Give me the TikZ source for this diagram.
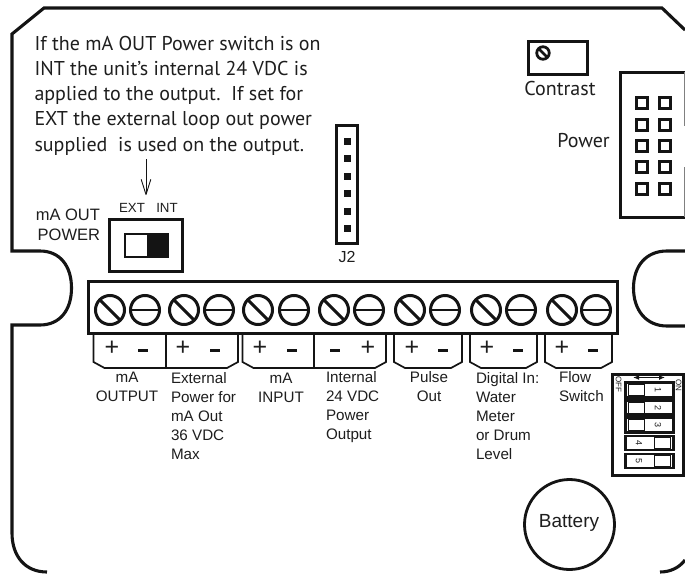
\documentclass[tikz,border=0pt]{standalone}
\usepackage{fontspec}
\setmainfont{Liberation Sans}
\newfontfamily\myr{PT Sans}
\usetikzlibrary{arrows.meta}
\definecolor{ink}{HTML}{141414}
\definecolor{txt}{HTML}{1E1E1E}
\tikzset{
  x=1pt,y=-1pt,
  every node/.style={inner sep=0pt,outer sep=0pt,text=txt},
  heavy/.style={draw=ink,line width=3.1pt},
  thinish/.style={draw=ink,line width=1.7pt},
  lab/.style={font=\fontsize{15.2}{19}\selectfont,align=left,anchor=north west},
  labc/.style={font=\fontsize{15.2}{19}\selectfont,align=center,anchor=north},
  sign/.style={font=\fontsize{25}{25}\selectfont},
  myriad/.style={font=\myr\fontsize{20}{25.2}\selectfont},
  dipnum/.style={font=\fontsize{9}{9}\selectfont,rotate=-90},
  pinbox/.style={draw=ink,line width=3.3pt,minimum size=10.5pt,fill=white},
  jpin/.style={fill=ink,minimum size=7pt},
}
\begin{document}
\begin{tikzpicture}
\useasboundingbox (0,0) rectangle (685,573);
\fill[white] (0,0) rectangle (685,573);
% housing outline
\draw[heavy,line join=miter]
  (47,572) .. controls (25,572) and (12,556) .. (12,533)
  -- (12,325) -- (40,325)
  .. controls (60,325) and (71.5,310) .. (71.5,288)
  .. controls (71.5,266) and (60,251) .. (40,251)
  -- (12,251) -- (12,34) -- (44,8) -- (662,8) -- (685,30);
\draw[heavy] (685,251) -- (667,251)
  .. controls (646,251) and (633.5,266) .. (633.5,288)
  .. controls (633.5,310) and (646,326) .. (667,326) -- (685,326);
\draw[heavy] (660,572) .. controls (670,572) and (679,568) .. (685,560);
% top note
\node[myriad,align=left,anchor=north west] (note) at (34.5,36)
 {If the mA OUT Power switch is on\\
  INT the unit’s internal 24 VDC is\\
  applied to the output.\ \ If set for\\
  EXT the external loop out power\\
  supplied\ \ is used on the output.};
\coordinate (arrowtop) at (146,159);
\coordinate (arrowend) at (146,195);
\draw[draw=ink,line width=.9pt,-{Straight Barb[length=15pt,width=9.5pt,round]}] (arrowtop) -- (arrowend);
% contrast
\node[draw=ink,line width=3pt,minimum width=59pt,minimum height=33pt] (contrast) at (558,58) {};
\node[draw=ink,line width=2.8pt,circle,minimum size=12.5pt] (cscrew) at (543,53) {};
\draw[draw=ink,line width=2.5pt] (cscrew.north west) -- (cscrew.south east);
\node[myriad] (contrastlab) at (560,88) {Contrast};
% power connector
\draw[draw=ink,line width=3pt] (684.5,72) -- (620,72) -- (620,217) -- (684.5,217);
\coordinate (pa) at (684.5,72); \coordinate (pb) at (684.5,126);
\coordinate (pc) at (684.5,167); \coordinate (pd) at (684.5,217);
\draw[draw=gray,line width=.8pt] (pa) -- (pb) (pc) -- (pd);
\node[myriad] (powerlab) at (583.5,141) {Power};
\foreach \y [count=\i] in {103,125,146,167,189}{
  \node[pinbox] (pl\i) at (642,\y) {};
  \node[pinbox] (pr\i) at (665,\y) {};
}
% J2
\node[draw=ink,line width=3.2pt,minimum width=21pt,minimum height=118pt] (jtwo) at (347,184.5) {};
\foreach \y [count=\i] in {141,158,176,193,211,228}{
  \node[jpin] (jp\i) at (347.5,\y) {};
}
\node[font=\fontsize{16}{16}\selectfont] (jlab) at (347,257) {J2};
% mA OUT switch
\node[font=\fontsize{16.5}{19.5}\selectfont,align=right,anchor=north east] (maout) at (100,209) {mA OUT\\POWER};
\node[font=\fontsize{13.3}{13.3}\selectfont] (ext) at (132,208) {EXT};
\node[font=\fontsize{13.3}{13.3}\selectfont] (int) at (167,208) {INT};
\node[draw=ink,line width=2.2pt,minimum width=73pt,minimum height=52pt] (swbox) at (146,245.5) {};
\node[draw=ink,line width=2.2pt,minimum width=43pt,minimum height=23pt] (swin) at (146.5,245.5) {};
\fill[ink] (147,234) rectangle (168,257);
% terminal block
\draw[draw=ink,line width=3.5pt] (88.5,281.5) rectangle (617.5,333.5);
\foreach \a/\b [count=\i] in {110/145,184/219,258/294,334/369,410/445,486/521,562/596}{
  \node[circle,draw=ink,line width=3pt,minimum size=29pt] (sa\i) at (\a,310) {};
  \node[circle,draw=ink,line width=3pt,minimum size=29pt] (sb\i) at (\b,310) {};
  \draw[draw=ink,line width=3pt] (sa\i.north west) -- (sa\i.south east);
  \draw[draw=ink,line width=2.4pt] (sb\i.west) -- (sb\i.east);
}
% terminal tabs
\foreach \l/\r in {93.5/238,242.5/386,394/462,470/537,545/612}{
  \draw[thinish] (\l,334) -- (\l,362) -- (\l+11,368) -- (\r-11,368) -- (\r,362) -- (\r,334);
}
\draw[thinish] (166,334) -- (166,368);
\draw[thinish] (314,334) -- (314,368);
% signs
\foreach \x [count=\i] in {112,183,260,368,412,487,562}{
  \node[sign] (sp\i) at (\x,348.5) {+};
}
\foreach \x [count=\i] in {143,215,292,335,443,518,593}{
  \node[minimum width=10pt,minimum height=3pt,fill=ink] (sm\i) at (\x,350) {};
}
% terminal labels
\node[labc] (l1) at (127,372) {mA\\OUTPUT};
\node[lab] (l2) at (171,372) {External\\Power for\\mA Out\\36 VDC\\Max};
\node[labc] (l3) at (281,373) {mA\\INPUT};
\node[lab] (l4) at (326,371) {Internal\\24 VDC\\Power\\Output};
\node[labc] (l5) at (429,371) {Pulse\\Out};
\node[lab] (l6) at (476,372) {Digital In:\\Water\\Meter\\or Drum\\Level};
\node[lab] (l7) at (559,371) {Flow\\Switch};
% DIP switch
\node[draw=ink,line width=2.1pt,minimum width=71pt,minimum height=101pt] (dip) at (648,425) {};
\coordinate (dl) at (633,377.5); \coordinate (dr) at (665,377.5);
\draw[draw=ink,line width=1.8pt,{Latex[length=6pt,width=5pt]}-{Latex[length=6pt,width=5pt]}] (dl) -- (dr);
\node[dipnum,font=\fontsize{8}{8}\selectfont] (off) at (618.5,384) {OFF};
\node[dipnum,font=\fontsize{8}{8}\selectfont] (on) at (678.5,385) {ON};
\foreach \y/\sx/\nx/\w [count=\i] in {390/636.5/658/2.6,407.5/636.5/658/2.6,425/636.5/658/2.6,443/662.5/639/2.2,461/662.5/639/2.2}{
  \node[draw=ink,line width=\w pt,fill=white,minimum width=48pt,minimum height=14.5pt] (row\i) at (649.5,\y) {};
  \node[draw=ink,line width=1.5pt,fill=white,minimum width=16pt,minimum height=11.5pt] (sl\i) at (\sx,\y) {};
  \node[dipnum] (n\i) at (\nx,\y) {\i};
}
% battery
\node[circle,draw=ink,line width=2.8pt,minimum size=90pt] (batt) at (569.5,524.5) {};
\node[font=\fontsize{19}{19}\selectfont] (battlab) at (569,523) {Battery};
\end{tikzpicture}
\end{document}
